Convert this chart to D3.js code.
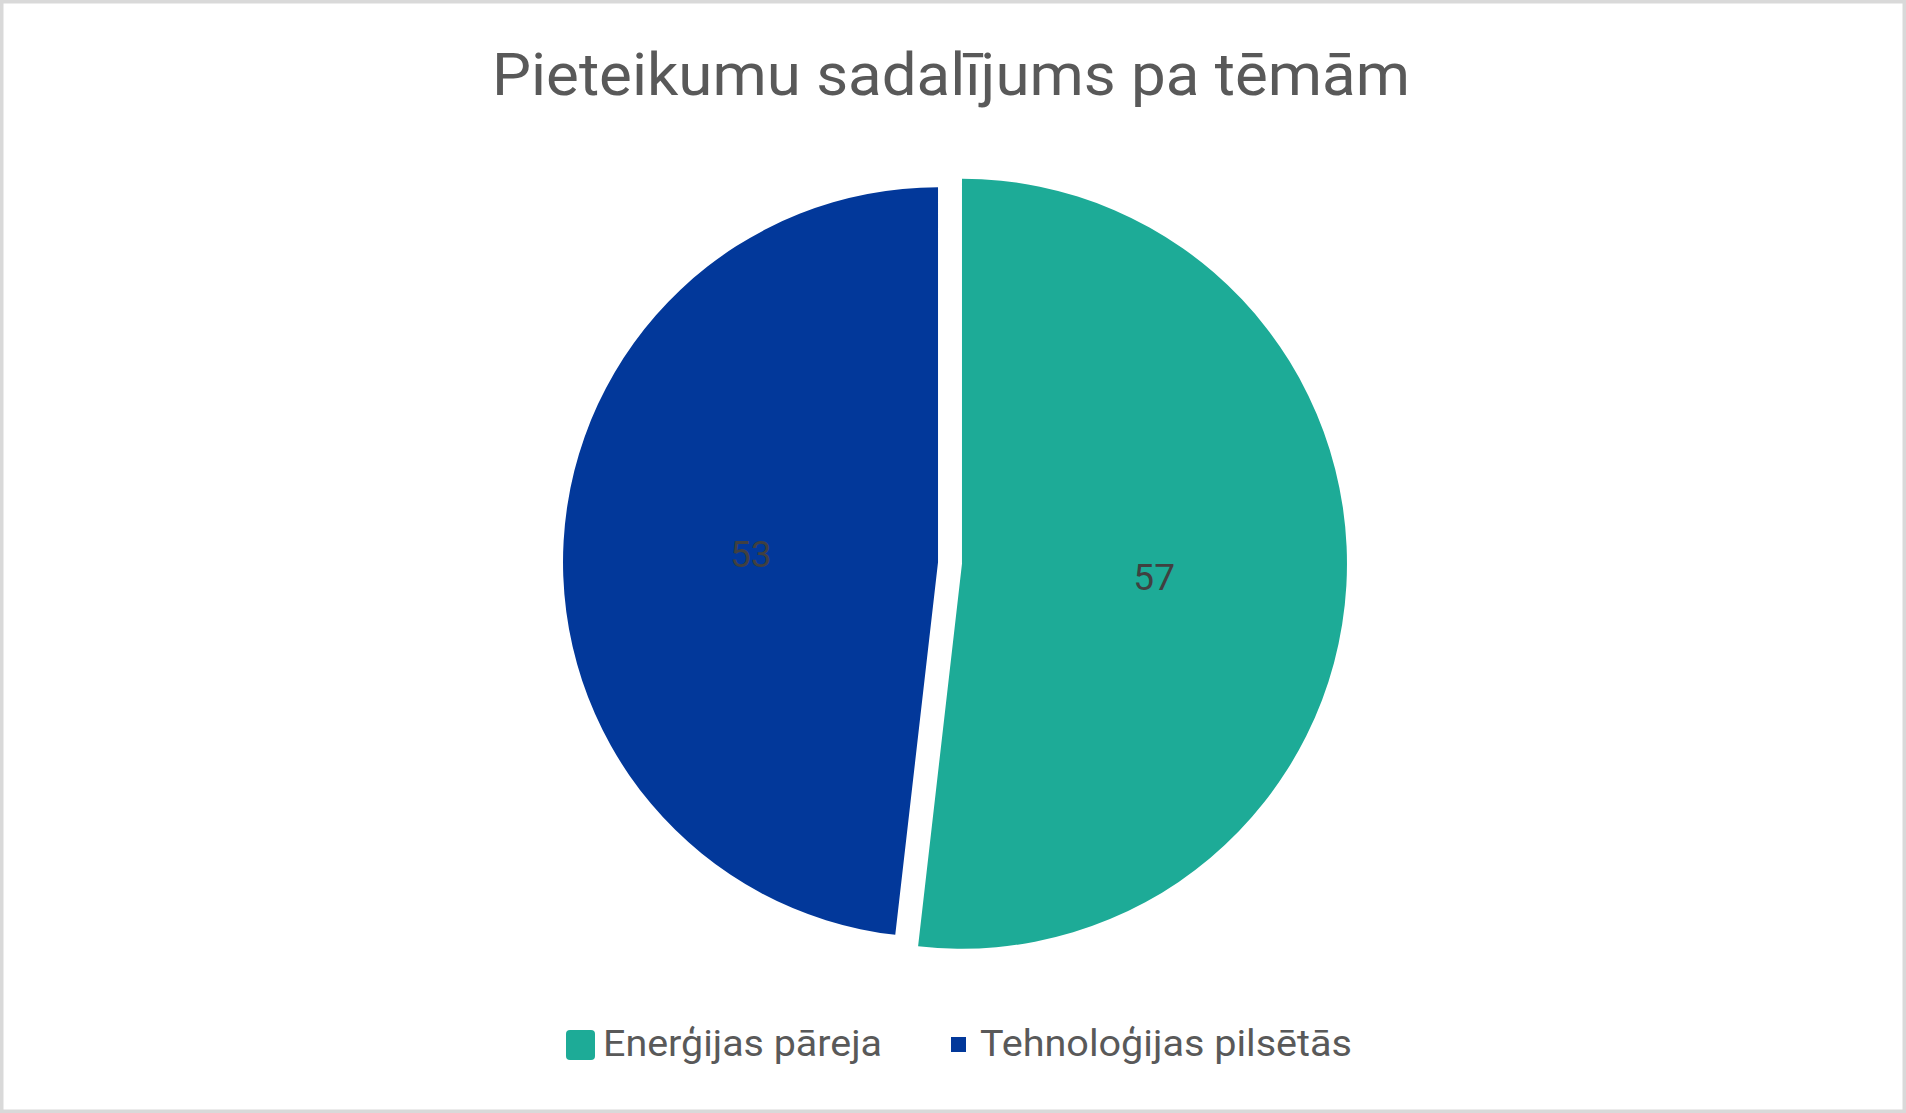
<!DOCTYPE html>
<html>
<head>
<meta charset="utf-8">
<script src="https://cdn.jsdelivr.net/npm/d3@7"></script>
<style>
html,body{margin:0;padding:0;background:#fff;}
svg{display:block;}
</style>
</head>
<body>
<script>
const title = "Pieteikumu sadalījums pa tēmām";
const categories = ["Enerģijas pāreja", "Tehnoloģijas pilsētās"];
const values = [57, 53];
const colors = ["#1DAB97", "#02389A"];

const W = 1906, H = 1113;
const svg = d3.select("body").append("svg").attr("width", W).attr("height", H);

svg.append("rect").attr("x", 1.75).attr("y", 1.75).attr("width", W - 3.5).attr("height", H - 3.5)
  .attr("fill", "#fff").attr("stroke", "#D9D9D9").attr("stroke-width", 3.5);

svg.append("text").text(title)
  .attr("x", 951).attr("y", 95).attr("text-anchor", "middle")
  .attr("font-family", "Roboto, 'Liberation Sans', sans-serif").attr("font-size", 59)
  .attr("fill", "#595959")
  .attr("textLength", 918).attr("lengthAdjust", "spacingAndGlyphs");

const cx = 950, cy = 563, explode = 12;
const radii = [385, 375];
const pie = d3.pie().sort(null).value(d => d.v);
const data = categories.map((c, i) => ({c, v: values[i], i}));
const arcs = pie(data);

const g = svg.append("g");
arcs.forEach((a, k) => {
  const r = radii[k];
  const mid = (a.startAngle + a.endAngle) / 2;
  const ox = cx + explode * Math.sin(mid);
  const oy = cy - explode * Math.cos(mid);
  const arc = d3.arc().innerRadius(0).outerRadius(r);
  const sg = g.append("g").attr("transform", `translate(${ox},${oy})`);
  sg.append("path").attr("d", arc(a)).attr("fill", colors[k]);
  const c = arc.centroid(a);
  sg.append("text").text(a.data.v)
    .attr("x", c[0]).attr("y", c[1] + 2.5).attr("dy", "0.35em")
    .attr("text-anchor", "middle")
    .attr("font-family", "Roboto, 'Liberation Sans', sans-serif").attr("font-size", 37)
    .attr("fill", "#404040");
});

// legend
const lg = svg.append("g");
lg.append("rect").attr("x", 566).attr("y", 1030).attr("width", 29).attr("height", 30)
  .attr("rx", 4).attr("fill", colors[0]);
lg.append("text").text(categories[0]).attr("x", 603).attr("y", 1056)
  .attr("font-family", "Roboto, 'Liberation Sans', sans-serif").attr("font-size", 36)
  .attr("fill", "#595959").attr("textLength", 279).attr("lengthAdjust", "spacingAndGlyphs");
lg.append("rect").attr("x", 951).attr("y", 1037).attr("width", 15).attr("height", 15)
  .attr("fill", colors[1]);
lg.append("text").text(categories[1]).attr("x", 980).attr("y", 1056)
  .attr("font-family", "Roboto, 'Liberation Sans', sans-serif").attr("font-size", 36)
  .attr("fill", "#595959").attr("textLength", 372).attr("lengthAdjust", "spacingAndGlyphs");
</script>
</body>
</html>
